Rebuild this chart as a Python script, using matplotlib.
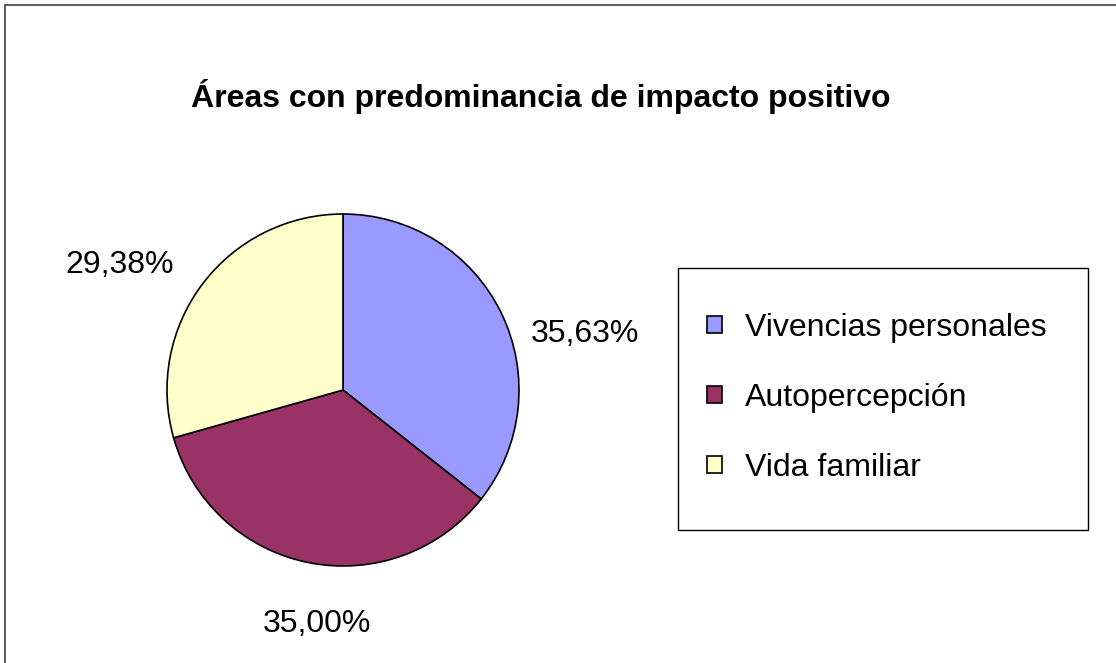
import matplotlib.pyplot as plt
from matplotlib.patches import Patch, Rectangle

# data
categories = ['Vivencias personales', 'Autopercepción', 'Vida familiar']
values = [35.63, 35.00, 29.38]
colors = ['#9999FF', '#993366', '#FFFFCC']
title = 'Áreas con predominancia de impacto positivo'

plt.rcParams['font.family'] = ['Liberation Sans', 'DejaVu Sans']

fig = plt.figure(figsize=(11.16, 6.63), dpi=100)

# outer chart frame (only top/left visible in the reference)
fig.patches.append(Rectangle((5 / 1116, -0.05), 1.2, 1 - 5 / 663 + 0.05,
                             transform=fig.transFigure, fill=False,
                             edgecolor='#606060', linewidth=1.5))

fig.text(541 / 1116, 1 - 97 / 663, title, ha='center', va='center',
         fontsize=23, fontweight='bold')

ax = fig.add_axes([(343 - 176) / 1116, 1 - (390 + 176) / 663, 352 / 1116, 352 / 663])
ax.pie(values, colors=colors, startangle=90, counterclock=False,
       wedgeprops=dict(edgecolor='black', linewidth=1.2))
ax.set_xlim(-1, 1)
ax.set_ylim(-1, 1)
ax.set_aspect('auto')
ax.axis('off')

# percentage labels (positions as Excel placed them)
label_pos = [(1.375, 0.318), (-0.148, -1.33), (-1.267, 0.71)]
for v, (x, y) in zip(values, label_pos):
    ax.text(x, y, f'{v:.2f}%'.replace('.', ','), ha='center', va='center',
            fontsize=23, clip_on=False)

# legend box
fig.patches.append(Rectangle((678 / 1116, 1 - 530 / 663), 410 / 1116, 262 / 663,
                             transform=fig.transFigure, fill=False,
                             edgecolor='black', linewidth=1))
handles = [Patch(facecolor=c, edgecolor='black', linewidth=1.2) for c in colors]
fig.legend(handles, categories, loc='center left',
           bbox_to_anchor=(707 / 1116, 1 - 398 / 663), frameon=False,
           fontsize=23, handlelength=0.46, handleheight=0.46,
           handletextpad=0.72, labelspacing=1.25, borderpad=0,
           borderaxespad=0)

fig.savefig('out.png', dpi=100)
